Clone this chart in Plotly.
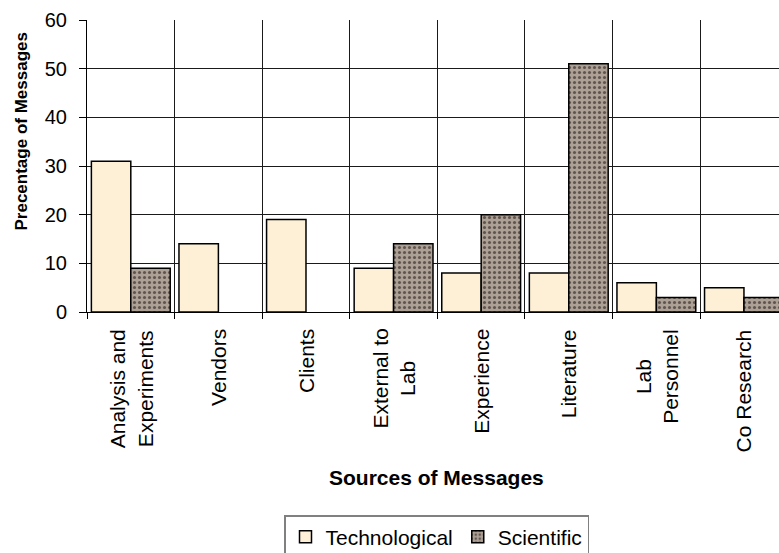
import plotly.graph_objects as go

# Message sources (category labels, multi-line where wrapped)
categories = ["Analysis and<br>Experiments", "Vendors", "Clients", "External to<br>Lab",
              "Experience", "Literature", "Lab<br>Personnel", "Co Research"]
technological = [31, 14, 19, 9, 8, 8, 6, 5]
scientific = [9, None, None, 14, 20, 51, 3, 3]
y_ticks = [0, 10, 20, 30, 40, 50, 60]

FONT = "Liberation Sans, Arial, sans-serif"

W, H = 779, 553
L, T, B = 87, 20, 241
plot_h = H - T - B
plot_w = W - L

fig = go.Figure()
fig.add_trace(go.Bar(
    name="Technological", x=categories, y=technological,
    marker=dict(color="#FDF0D6", line=dict(color="black", width=1.5)),
))
fig.add_trace(go.Bar(
    name="Scientific", x=categories, y=scientific,
    marker=dict(
        color="#A3968C",
        line=dict(color="black", width=1.5),
        pattern=dict(shape=".", fgcolor="#5F544E", bgcolor="#ADA095",
                     size=5, solidity=0.3, fillmode="replace"),
    ),
))

annotations = []
# category labels, rotated and centred line by line
for c in categories:
    annotations.append(dict(
        x=c, y=0, xref="x", yref="paper", text=c, showarrow=False,
        textangle=-90, align="center", xanchor="center", yanchor="top",
        yshift=-15, font=dict(family=FONT, size=21, color="black"),
    ))
# axis titles
annotations.append(dict(
    x=(436.5 - L) / plot_w, y=(T + plot_h - 477) / plot_h, xref="paper", yref="paper",
    text="<b>Sources of Messages</b>", showarrow=False,
    xanchor="center", yanchor="middle",
    font=dict(family=FONT, size=21, color="black"),
))
annotations.append(dict(
    x=(20.5 - L) / plot_w, y=(T + plot_h - 132) / plot_h, xref="paper", yref="paper",
    text="<b>Precentage of Messages</b>", showarrow=False, textangle=-90,
    xanchor="center", yanchor="middle",
    font=dict(family=FONT, size=17, color="black"),
))

fig.update_layout(
    width=W, height=H,
    margin=dict(l=L, r=0, t=T, b=B, pad=0),
    paper_bgcolor="white", plot_bgcolor="white",
    barmode="group", bargap=0.1, bargroupgap=0,
    font=dict(family=FONT, color="black"),
    showlegend=True,
    legend=dict(
        orientation="h", xref="container", yref="container",
        x=436.5 / W, xanchor="center", y=1 - 515 / H, yanchor="top",
        bordercolor="#808080", borderwidth=1.5, bgcolor="white",
        font=dict(family=FONT, size=21, color="black"),
        itemwidth=30, tracegroupgap=0,
    ),
    annotations=annotations,
)

fig.update_xaxes(
    type="category", range=[-0.5, 7.4],
    tickson="boundaries", showgrid=True, gridcolor="#1a1a1a", gridwidth=1,
    showticklabels=False, ticks="outside", ticklen=6, tickcolor="black",
    showline=True, linecolor="black", linewidth=1, zeroline=False,
)
fig.update_yaxes(
    range=[0, 60], tickvals=y_ticks, ticktext=[str(v) for v in y_ticks],
    showgrid=True, gridcolor="#1a1a1a", gridwidth=1,
    ticks="outside", ticklen=7, tickcolor="black", ticklabelstandoff=8,
    showline=True, linecolor="black", linewidth=1, zeroline=False,
    tickfont=dict(family=FONT, size=20, color="black"),
)

fig.write_html("out.html")
